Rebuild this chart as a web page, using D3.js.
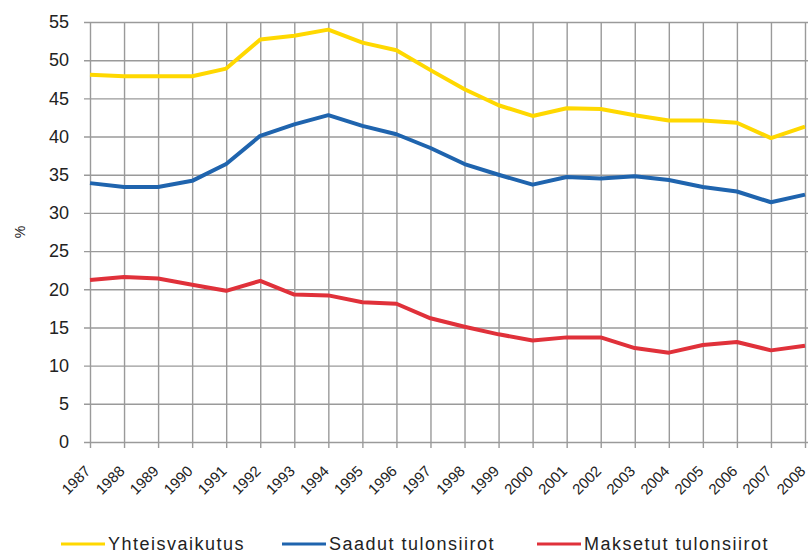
<!DOCTYPE html>
<html>
<head>
<meta charset="utf-8">
<script src="https://cdn.jsdelivr.net/npm/d3@7"></script>
<style>
  body { margin: 0; background: #fff; }
  text { font-family: "Liberation Sans", Arial, sans-serif; fill: #222; }
</style>
</head>
<body>
<div id="chart"></div>
<script>
const years = d3.range(1987, 2009).map(String);
const yTicks = d3.range(0, 56, 5);

const yhteisvaikutus = [48.1, 47.9, 47.9, 47.9, 48.9, 52.7, 53.2, 54.0, 52.3, 51.3, 48.7,
    46.2, 44.1, 42.7, 43.7, 43.6, 42.8, 42.1, 42.1, 41.8, 39.8, 41.3];
const saadut = [33.9, 33.4, 33.4, 34.2, 36.4, 40.1, 41.6, 42.8, 41.4, 40.3, 38.5,
    36.4, 35.0, 33.7, 34.7, 34.5, 34.8, 34.3, 33.4, 32.8, 31.4, 32.4];
const maksetut = [21.2, 21.6, 21.4, 20.6, 19.8, 21.1, 19.3, 19.2, 18.3, 18.1, 16.2,
    15.1, 14.1, 13.3, 13.7, 13.7, 12.3, 11.7, 12.7, 13.1, 12.0, 12.6];

const seriesNames = ['Yhteisvaikutus', 'Saadut tulonsiirot', 'Maksetut tulonsiirot'];
const seriesColors = ['#ffd800', '#1f64ae', '#e0313a'];
const seriesValues = [yhteisvaikutus, saadut, maksetut];

const width = 808;
const height = 554;
const plotLeft = 90, plotRight = 805, plotTop = 22, plotBottom = 442;

const svg = d3.select('#chart')
    .append('svg')
    .attr('width', width)
    .attr('height', height);

const x = d3.scalePoint().domain(years).range([plotLeft, plotRight]);
const y = d3.scaleLinear().domain([0, 55]).range([plotBottom, plotTop]);

// horizontal grid + y labels
svg.append('g')
    .attr('transform', `translate(${plotLeft - 6},0)`)
    .call(d3.axisLeft(y).tickValues(yTicks).tickSize(-(width - plotLeft + 6)).tickPadding(15))
    .call((g) => g.select('.domain').remove())
    .call((g) => g.selectAll('.tick line').attr('stroke', '#9a9a9a').attr('stroke-width', 1.4))
    .call((g) => g.selectAll('.tick text')
        .attr('font-size', 18)
        .attr('fill', '#222'));

// vertical grid + year labels
svg.append('g')
    .attr('transform', `translate(0,${plotTop})`)
    .call(d3.axisBottom(x).tickSize(plotBottom - plotTop + 6))
    .call((g) => g.select('.domain').remove())
    .call((g) => g.selectAll('.tick line').attr('stroke', '#9a9a9a').attr('stroke-width', 1.4))
    .call((g) => g.selectAll('.tick text')
        .attr('x', 0)
        .attr('y', 0)
        .attr('dy', 0)
        .attr('font-size', 15)
        .attr('fill', '#222')
        .attr('text-anchor', 'end')
        .attr('transform', `translate(1,${plotBottom - plotTop + 30}) rotate(-45)`));

svg.append('text')
    .attr('transform', `translate(25,232) rotate(-90)`)
    .attr('text-anchor', 'middle')
    .attr('font-size', 14)
    .text('%');

const line = d3.line()
    .x((d, i) => x(years[i]))
    .y((d) => y(d));

svg.append('g')
    .selectAll('path')
    .data(seriesValues)
    .join('path')
    .attr('fill', 'none')
    .attr('stroke', (d, i) => seriesColors[i])
    .attr('stroke-width', 4)
    .attr('stroke-linejoin', 'round')
    .attr('d', line);

// legend
const legendX = [61, 282, 537];
const legend = svg.append('g')
    .selectAll('g')
    .data(seriesNames)
    .join('g')
    .attr('transform', (d, i) => `translate(${legendX[i]},544)`);

legend.append('line')
    .attr('x1', 0)
    .attr('x2', 44)
    .attr('stroke', (d, i) => seriesColors[i])
    .attr('stroke-width', 3);

legend.append('text')
    .attr('x', 47)
    .attr('dy', '0.35em')
    .attr('font-size', 18)
    .attr('letter-spacing', 1.5)
    .text((d) => d);
</script>
</body>
</html>
